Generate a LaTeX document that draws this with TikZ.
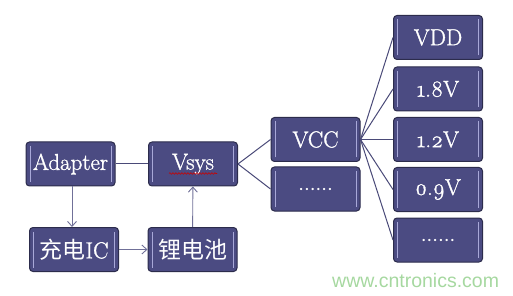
\documentclass[tikz,border=0pt]{standalone}
\usepackage{fontspec}
\setmainfont{Latin Modern Roman}[Numbers=OldStyle]
\newfontfamily\boxfont{Latin Modern Roman}[Numbers=OldStyle, FakeBold=1.3]
\newfontfamily\cjk{Noto Sans CJK SC}
\newfontfamily\wmfont{Liberation Sans}
\usetikzlibrary{arrows.meta,decorations.pathmorphing}
\definecolor{boxfill}{HTML}{4B4B82}
\definecolor{boxedge}{HTML}{2C2C4C}
\definecolor{bevel}{HTML}{A8A8D8}
\definecolor{linecol}{HTML}{4A4A78}
\definecolor{arrowcol}{HTML}{707098}
\definecolor{wmgreen}{HTML}{A6D8A0}
\tikzset{
  blk/.style={draw=boxedge, line width=1pt, fill=boxfill, rounded corners=3.5pt,
    text=white, font=\boxfont\fontsize{23}{26}\selectfont, minimum width=89pt, minimum height=44pt,
    inner sep=0pt, path picture={
      \draw[bevel, line width=1pt] ([xshift=4pt,yshift=4pt]path picture bounding box.south west) -- ([xshift=4pt,yshift=-4pt]path picture bounding box.north west);
      \draw[bevel, line width=1pt] ([xshift=-4pt,yshift=4pt]path picture bounding box.south east) -- ([xshift=-4pt,yshift=-4pt]path picture bounding box.north east);
    }},
  conn/.style={draw=linecol, line width=1pt},
  arr/.style={draw=arrowcol, line width=0.9pt, -{Straight Barb[length=5pt,width=9pt]}}
}
\begin{document}
\begin{tikzpicture}[x=1pt,y=-1pt]
\useasboundingbox (0,0) rectangle (513,296);
\node[blk] (adapter) at (70.5,164) {Adapter};
\node[blk] (vsys) at (193,164) {Vsys};
\node[blk] (ic) at (74,249.5) {{\cjk 充电}IC};
\node[blk] (bat) at (192.5,249.5) {\cjk 锂电池};
\node[blk] (vcc) at (315.5,139.5) {VCC};
\node[blk] (dots1) at (315.5,189) {......};
\node[blk] (vdd) at (438,37.5) {VDD};
\node[blk] (v18) at (438,89) {1.8V};
\node[blk] (v12) at (438,139.5) {1.2V};
\node[blk] (v09) at (438,189.5) {0.9V};
\node[blk] (dots2) at (438,240) {......};
\draw[red!80!black, line width=0.6pt, decorate, decoration={snake, amplitude=0.8pt, segment length=3pt}]
  ([xshift=-24pt,yshift=-9.5pt]vsys.center) -- ([xshift=24pt,yshift=-9.5pt]vsys.center);
\draw[conn] (adapter) -- (vsys);
\draw[arr] (adapter.south -| ic.north) ++(-2,0) coordinate (a1) -- (a1 |- ic.north);
\draw[arr] (ic) -- (bat);
\draw[arr] (bat) -- (vsys);
\draw[conn] (vsys.east) -- (vcc.west);
\draw[conn] (vsys.east) -- (dots1.west);
\foreach \t in {vdd,v18,v12,v09,dots2}
  \draw[conn] (vcc.east) -- (\t.west);
\node[text=wmgreen, font=\wmfont\fontsize{19.5}{22}\selectfont, anchor=base west, inner sep=0pt] (wm) at (332,287) {www.cntronics.com};
\end{tikzpicture}
\end{document}
